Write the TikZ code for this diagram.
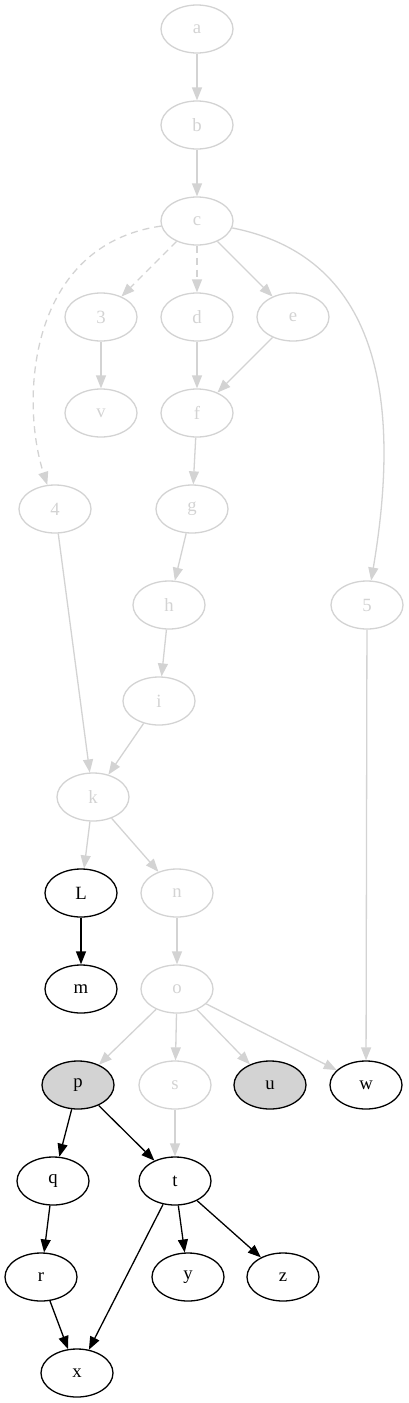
\documentclass[tikz,border=0pt]{standalone}
\usepackage{fontspec}
\setmainfont{Liberation Serif}
\usetikzlibrary{arrows.meta,shapes.geometric}
\definecolor{fadegray}{HTML}{D3D3D3}

\begin{document}
\begin{tikzpicture}[x=1pt,y=-1pt,
      font=\fontsize{18.7}{20}\selectfont,
      live/.style={ellipse,draw=black,line width=1.3pt,minimum width=72pt,
                   minimum height=48pt,inner sep=0pt},
      faded/.style={live,draw=fadegray,text=fadegray},
      held/.style={live,fill=fadegray},
      arr/.style={-{Triangle[length=13pt,width=10pt]},line width=1.3pt,black},
      farr/.style={arr,fadegray},
      darr/.style={farr,dash pattern=on 7pt off 5pt}]
    \useasboundingbox (0,0) rectangle (408,1403);
    \node[faded] (a)  at (197,29)   {a};
    \node[faded] (b)  at (197,125)  {b};
    \node[faded] (c)  at (197,221)  {c};
    \node[faded] (n3) at (101,317)  {3};
    \node[faded] (d)  at (197,317)  {d};
    \node[faded] (e)  at (293,317)  {e};
    \node[faded] (v)  at (101,413)  {v};
    \node[faded] (f)  at (197,413)  {f};
    \node[faded] (n4) at (55,509)   {4};
    \node[faded] (g)  at (192,509)  {g};
    \node[faded] (h)  at (169,605)  {h};
    \node[faded] (n5) at (367,605)  {5};
    \node[faded] (i)  at (159,701)  {i};
    \node[faded] (k)  at (93,797)   {k};
    \node[live]  (L)  at (81,893)   {L};
    \node[faded] (n)  at (177,893)  {n};
    \node[live]  (m)  at (81,989)   {m};
    \node[faded] (o)  at (177,989)  {o};
    \node[held]  (p)  at (78,1085)  {p};
    \node[faded] (s)  at (175,1085) {s};
    \node[held]  (u)  at (270,1085) {u};
    \node[live]  (w)  at (366,1085) {w};
    \node[live]  (q)  at (53,1181)  {q};
    \node[live]  (t)  at (175,1181) {t};
    \node[live]  (r)  at (41,1277)  {r};
    \node[live]  (y)  at (188,1277) {y};
    \node[live]  (z)  at (283,1277) {z};
    \node[live]  (x)  at (77,1373)  {x};
    % faded part
    \draw[farr] (a) -- (b);
    \draw[farr] (b) -- (c);
    \draw[darr] (c) -- (n3);
    \draw[darr] (c) -- (d);
    \draw[farr] (c) -- (e);
    \draw[darr] (c) .. controls (28,245) and (20,400) .. (n4);
    \draw[farr] (c) .. controls (385,258) and (400,410) .. (n5);
    \draw[farr] (n3) -- (v);
    \draw[farr] (d) -- (f);
    \draw[farr] (e) -- (f);
    \draw[farr] (f) -- (g);
    \draw[farr] (g) -- (h);
    \draw[farr] (h) -- (i);
    \draw[farr] (i) -- (k);
    \draw[farr] (n4) -- (k);
    \draw[farr] (k) -- (L);
    \draw[farr] (k) -- (n);
    \draw[farr] (n) -- (o);
    \draw[farr] (o) -- (p);
    \draw[farr] (o) -- (s);
    \draw[farr] (o) -- (u);
    \draw[farr] (o) -- (w);
    \draw[farr] (n5) -- (w);
    \draw[farr] (s) -- (t);
    % live part
    \draw[arr] (L) -- (m);
    \draw[arr] (p) -- (q);
    \draw[arr] (p) -- (t);
    \draw[arr] (q) -- (r);
    \draw[arr] (r) -- (x);
    \draw[arr] (t) -- (x);
    \draw[arr] (t) -- (y);
    \draw[arr] (t) -- (z);
  \end{tikzpicture}
\end{document}
